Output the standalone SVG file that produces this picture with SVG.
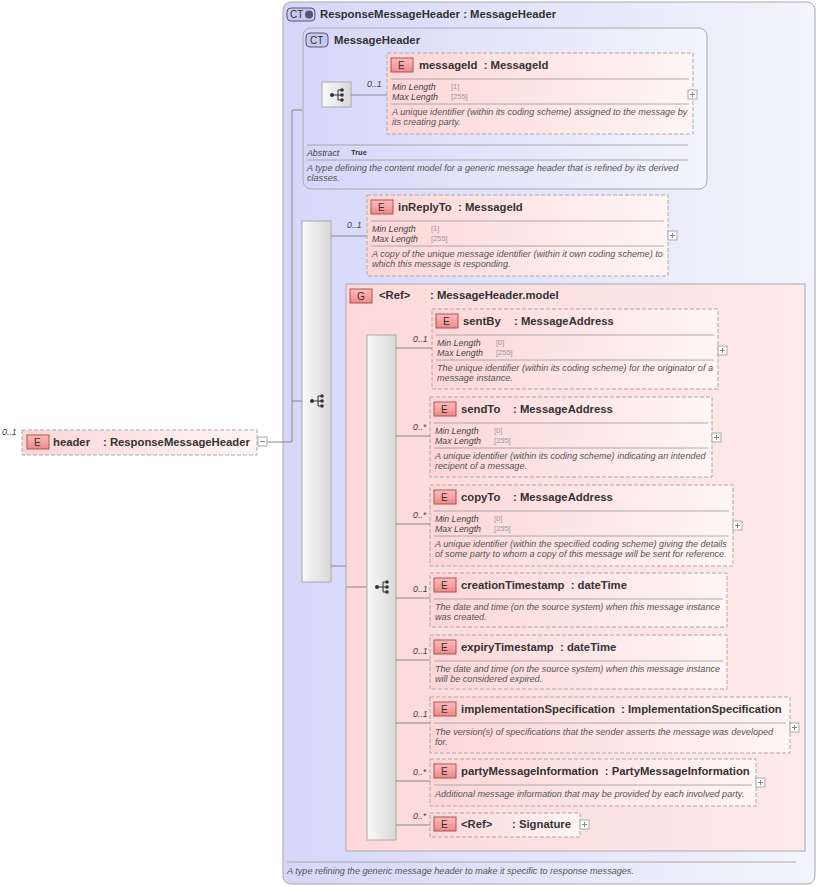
<svg xmlns="http://www.w3.org/2000/svg" width="818" height="886" viewBox="0 0 818 886">
<defs>
<linearGradient id="ct" x1="0" y1="0" x2="1" y2="0"><stop offset="0" stop-color="#d6d6fa"/><stop offset="1" stop-color="#f4f4fc"/></linearGradient>
<linearGradient id="el" x1="0" y1="0" x2="1" y2="0"><stop offset="0" stop-color="#fdd6d6"/><stop offset="1" stop-color="#fff5f5"/></linearGradient>
<linearGradient id="gr" x1="0" y1="0" x2="1" y2="0"><stop offset="0" stop-color="#fdd9d9"/><stop offset="1" stop-color="#fdeaea"/></linearGradient>
<linearGradient id="bar" x1="0" y1="0" x2="1" y2="0"><stop offset="0" stop-color="#fafafa"/><stop offset="1" stop-color="#d8d8d8"/></linearGradient>
<linearGradient id="eb" x1="0" y1="0" x2="0" y2="1"><stop offset="0" stop-color="#fbb"/><stop offset="1" stop-color="#e88"/></linearGradient>
<g id="seq"><circle cx="-6" cy="0" r="2" fill="#333"/><line x1="-6" y1="0" x2="0" y2="0" stroke="#333"/><line x1="0" y1="-5" x2="0" y2="5" stroke="#333"/><line x1="0" y1="-5" x2="4" y2="-5" stroke="#333"/><line x1="0" y1="0" x2="4" y2="0" stroke="#333"/><line x1="0" y1="5" x2="4" y2="5" stroke="#333"/><circle cx="4" cy="-5" r="1.8" fill="#333"/><circle cx="4" cy="0" r="1.8" fill="#333"/><circle cx="4" cy="5" r="1.8" fill="#333"/></g>
<g id="plus"><rect x="0" y="0" width="9" height="9" fill="#fff" stroke="#aaa"/><line x1="2" y1="4.5" x2="7" y2="4.5" stroke="#888"/><line x1="4.5" y1="2" x2="4.5" y2="7" stroke="#888"/></g>
</defs>
<style>
text{font-family:"Liberation Sans",Arial,sans-serif;white-space:pre}
.t{font-weight:bold;font-size:11.3px;fill:#333}
.b{font-size:10px;fill:#333}
.m{font-style:italic;font-size:8.8px;fill:#444}
.v{font-size:7.5px;fill:#999}
.d{font-style:italic;font-size:9.1px;fill:#555}
.el{fill:url(#el);stroke:#aaa;stroke-dasharray:4 2}
.eb{fill:url(#eb);stroke:#a55}
.sep{stroke:#999;stroke-width:0.8}
.c{stroke:#888;fill:none}
.bar{fill:url(#bar);stroke:#aaa}
</style>
<g id="outer">
<rect x="283" y="2" width="532" height="882" rx="8" fill="url(#ct)" stroke="#aaa"/>
<rect x="287" y="8" width="28" height="13" rx="4" fill="#c8c8f0" stroke="#557"/>
<text x="290" y="18" class="b">CT</text><circle cx="309" cy="14.5" r="4" fill="#557"/>
<text x="320" y="18" class="t">ResponseMessageHeader : MessageHeader</text>
<line x1="287" y1="862" x2="796" y2="862" class="sep"/>
<text x="287" y="874" class="d">A type refining the generic message header to make it specific to response messages.</text>
</g>
<g id="MessageHeader">
<rect x="303" y="28" width="404" height="161" rx="8" fill="url(#ct)" stroke="#aaa"/>
<rect x="306" y="33" width="22" height="14" rx="4" fill="#c8c8f0" stroke="#557"/>
<text x="310" y="44" class="b">CT</text>
<text x="334" y="44" class="t">MessageHeader</text>
<rect x="322" y="82" width="29" height="25" class="bar"/>
<use href="#seq" x="338" y="95"/>
<line x1="307" y1="145" x2="688" y2="145" class="sep"/>
<text x="307" y="156" class="m">Abstract</text><text x="351" y="155" style="font-size:7.5px;font-weight:bold;fill:#333">True</text>
<line x1="307" y1="160" x2="688" y2="160" class="sep"/>
<text x="307" y="171" class="d">A type defining the content model for a generic message header that is refined by its derived</text>
<text x="307" y="181" class="d">classes.</text>
</g>
<g id="messageId">
<rect x="387" y="53" width="306" height="81" class="el"/>
<rect x="391" y="58" width="22" height="14" class="eb"/><text x="398" y="69" class="b">E</text>
<text x="419" y="69" class="t">messageId  : MessageId</text>
<line x1="391" y1="79" x2="689" y2="79" class="sep"/>
<text x="392" y="90" class="m">Min Length</text><text x="451" y="89" class="v">[1]</text>
<text x="392" y="100" class="m">Max Length</text><text x="451" y="99" class="v">[255]</text>
<line x1="391" y1="104" x2="689" y2="104" class="sep"/>
<text x="392" y="115" class="d">A unique identifier (within its coding scheme) assigned to the message by</text>
<text x="392" y="125" class="d">its creating party.</text>
<use href="#plus" x="688" y="90"/>
</g>
<g id="seq1"><rect x="302" y="221" width="29" height="361" class="bar"/><use href="#seq" x="318" y="401"/></g>
<g id="inReplyTo">
<rect x="367" y="195" width="301" height="81" class="el"/>
<rect x="371" y="200" width="22" height="14" class="eb"/><text x="378" y="211" class="b">E</text>
<text x="398" y="211" class="t">inReplyTo  : MessageId</text>
<line x1="371" y1="221" x2="664" y2="221" class="sep"/>
<text x="372" y="232" class="m">Min Length</text><text x="431" y="231" class="v">[1]</text>
<text x="372" y="242" class="m">Max Length</text><text x="431" y="241" class="v">[255]</text>
<line x1="371" y1="246" x2="664" y2="246" class="sep"/>
<text x="372" y="257" class="d">A copy of the unique message identifier (within it own coding scheme) to</text>
<text x="372" y="267" class="d">which this message is responding.</text>
<use href="#plus" x="668" y="231"/>
</g>
<g id="group">
<rect x="346" y="284" width="459" height="567" fill="url(#gr)" stroke="#aaa"/>
<rect x="350" y="289" width="22" height="14" class="eb"/><text x="357" y="300" class="b">G</text>
<text x="379" y="299" class="t">&lt;Ref&gt;</text><text x="430" y="299" class="t">: MessageHeader.model</text>
<rect x="367" y="335" width="29" height="505" class="bar"/><use href="#seq" x="383" y="587"/>
</g>
<g id="sentBy">
<rect x="432" y="309" width="286" height="80" class="el"/>
<rect x="436" y="314" width="22" height="14" class="eb"/><text x="443" y="325" class="b">E</text>
<text x="463" y="325" class="t">sentBy</text><text x="514" y="325" class="t">: MessageAddress</text>
<line x1="436" y1="335" x2="714" y2="335" class="sep"/>
<text x="437" y="346" class="m">Min Length</text><text x="496" y="345" class="v">[0]</text>
<text x="437" y="356" class="m">Max Length</text><text x="496" y="355" class="v">[255]</text>
<line x1="436" y1="360" x2="714" y2="360" class="sep"/>
<text x="437" y="371" class="d">The unique identifier (within its coding scheme) for the originator of a</text>
<text x="437" y="381" class="d">message instance.</text>
<use href="#plus" x="718" y="346"/>
</g>
<g id="sendTo">
<rect x="430" y="397" width="282" height="80" class="el"/>
<rect x="434" y="402" width="22" height="14" class="eb"/><text x="441" y="413" class="b">E</text>
<text x="461" y="413" class="t">sendTo</text><text x="513" y="413" class="t">: MessageAddress</text>
<line x1="434" y1="423" x2="708" y2="423" class="sep"/>
<text x="435" y="434" class="m">Min Length</text><text x="494" y="433" class="v">[0]</text>
<text x="435" y="444" class="m">Max Length</text><text x="494" y="443" class="v">[255]</text>
<line x1="434" y1="448" x2="708" y2="448" class="sep"/>
<text x="435" y="459" class="d">A unique identifier (within its coding scheme) indicating an intended</text>
<text x="435" y="469" class="d">recipent of a message.</text>
<use href="#plus" x="712" y="433"/>
</g>
<g id="copyTo">
<rect x="430" y="485" width="303" height="81" class="el"/>
<rect x="434" y="490" width="22" height="14" class="eb"/><text x="441" y="501" class="b">E</text>
<text x="461" y="501" class="t">copyTo</text><text x="513" y="501" class="t">: MessageAddress</text>
<line x1="434" y1="511" x2="729" y2="511" class="sep"/>
<text x="435" y="522" class="m">Min Length</text><text x="494" y="521" class="v">[0]</text>
<text x="435" y="532" class="m">Max Length</text><text x="494" y="531" class="v">[255]</text>
<line x1="434" y1="536" x2="729" y2="536" class="sep"/>
<text x="435" y="547" class="d">A unique identifier (within the specified coding scheme) giving the details</text>
<text x="435" y="557" class="d">of some party to whom a copy of this message will be sent for reference.</text>
<use href="#plus" x="733" y="521"/>
</g>
<g id="creationTimestamp">
<rect x="430" y="573" width="297" height="54" class="el"/>
<rect x="434" y="578" width="22" height="14" class="eb"/><text x="441" y="589" class="b">E</text>
<text x="461" y="589" class="t">creationTimestamp  : dateTime</text>
<line x1="434" y1="599" x2="723" y2="599" class="sep"/>
<text x="435" y="610" class="d">The date and time (on the source system) when this message instance</text>
<text x="435" y="620" class="d">was created.</text>
</g>
<g id="expiryTimestamp">
<rect x="430" y="635" width="297" height="54" class="el"/>
<rect x="434" y="640" width="22" height="14" class="eb"/><text x="441" y="651" class="b">E</text>
<text x="461" y="651" class="t">expiryTimestamp  : dateTime</text>
<line x1="434" y1="661" x2="723" y2="661" class="sep"/>
<text x="435" y="672" class="d">The date and time (on the source system) when this message instance</text>
<text x="435" y="682" class="d">will be considered expired.</text>
</g>
<g id="implementationSpecification">
<rect x="430" y="697" width="360" height="56" class="el"/>
<rect x="434" y="702" width="22" height="14" class="eb"/><text x="441" y="713" class="b">E</text>
<text x="461" y="713" class="t">implementationSpecification  : ImplementationSpecification</text>
<line x1="434" y1="723" x2="786" y2="723" class="sep"/>
<text x="435" y="735" class="d">The version(s) of specifications that the sender asserts the message was developed</text>
<text x="435" y="745" class="d">for.</text>
<use href="#plus" x="790" y="723"/>
</g>
<g id="partyMessageInformation">
<rect x="430" y="759" width="326" height="47" class="el"/>
<rect x="434" y="764" width="22" height="14" class="eb"/><text x="441" y="775" class="b">E</text>
<text x="461" y="775" class="t">partyMessageInformation  : PartyMessageInformation</text>
<line x1="434" y1="785" x2="752" y2="785" class="sep"/>
<text x="435" y="797" class="d">Additional message information that may be provided by each involved party.</text>
<use href="#plus" x="756" y="778"/>
</g>
<g id="signature">
<rect x="430" y="813" width="150" height="24" class="el"/>
<rect x="434" y="817" width="22" height="14" class="eb"/><text x="441" y="828" class="b">E</text>
<text x="461" y="828" class="t">&lt;Ref&gt;</text><text x="512" y="828" class="t">: Signature</text>
<use href="#plus" x="580" y="820"/>
</g>
<g id="header">
<rect x="22" y="430" width="235" height="25" class="el"/>
<rect x="27" y="435" width="22" height="14" class="eb"/><text x="34" y="446" class="b">E</text>
<text x="53" y="446" class="t">header</text><text x="103" y="446" class="t">: ResponseMessageHeader</text>
<rect x="258" y="437" width="9" height="9" fill="#fff" stroke="#aaa"/><line x1="260" y1="441.5" x2="265" y2="441.5" stroke="#888"/>
<text x="2" y="435" class="m">0..1</text>
</g>
<g id="connectors">
<path class="c" d="M267 442H292V110H302M292 401H302M351 95H387M331 236H367M331 566H346M346 587H367M396 348H432M396 436H430M396 524H430M396 598H430M396 660H430M396 723H430M396 781H430M396 825H430"/>
<text x="367" y="87" class="m">0..1</text>
<text x="347" y="228" class="m">0..1</text>
<text x="413" y="342" class="m">0..1</text>
<text x="413" y="430" class="m">0..*</text>
<text x="413" y="518" class="m">0..*</text>
<text x="413" y="592" class="m">0..1</text>
<text x="413" y="654" class="m">0..1</text>
<text x="413" y="717" class="m">0..1</text>
<text x="413" y="775" class="m">0..*</text>
<text x="413" y="819" class="m">0..*</text>
</g>
</svg>
